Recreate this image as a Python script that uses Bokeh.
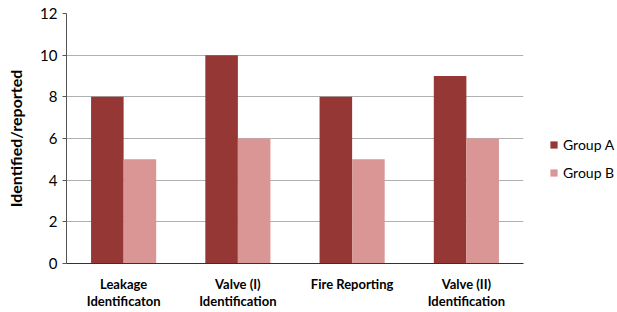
from bokeh.plotting import figure
from bokeh.models import Legend, LegendItem, FixedTicker, ColumnDataSource
from bokeh.transform import dodge
from bokeh.embed import file_html
from bokeh.resources import INLINE

categories = ["Leakage\nIdentificaton", "Valve (I)\nIdentification", "Fire Reporting", "Valve (II)\nIdentification"]
group_a = [8, 10, 8, 9]
group_b = [5, 6, 5, 6]
series_names = ["Group A", "Group B"]
y_ticks = [0, 2, 4, 6, 8, 10, 12]

src = ColumnDataSource(dict(cat=categories, a=group_a, b=group_b))

p = figure(x_range=categories, y_range=(0, 12), output_backend="svg", toolbar_location=None,
           frame_width=457, frame_height=250, min_border_left=66, min_border_top=13,
           min_border_bottom=48, min_border_right=0)

ra = p.vbar(x=dodge("cat", -0.1425, range=p.x_range), top="a", width=0.285, source=src,
            fill_color="#953735", line_color=None)
rb = p.vbar(x=dodge("cat", 0.1425, range=p.x_range), top="b", width=0.285, source=src,
            fill_color="#D99694", line_color=None)

p.outline_line_color = None
p.xgrid.grid_line_color = None
p.ygrid.grid_line_color = "#B0B0B0"
p.ygrid.grid_line_width = 1
p.yaxis.ticker = FixedTicker(ticks=y_ticks)
p.yaxis.axis_line_color = "#555555"
p.yaxis.major_tick_line_color = "#555555"
p.yaxis.major_tick_out = 4
p.yaxis.major_tick_in = 0
p.yaxis.minor_tick_line_color = None
p.yaxis.major_label_text_font = "Lato"
p.yaxis.major_label_text_font_size = "15px"
p.yaxis.major_label_text_color = "#000000"
p.yaxis.major_label_standoff = 5
p.yaxis.axis_label = "Identified/reported"
p.yaxis.axis_label_text_font = "Lato"
p.yaxis.axis_label_text_font_style = "bold"
p.yaxis.axis_label_text_font_size = "16px"
p.yaxis.axis_label_text_color = "#000000"
p.yaxis.axis_label_standoff = 12

p.xaxis.axis_line_color = "#333333"
p.xaxis.major_tick_line_color = None
p.xaxis.minor_tick_line_color = None
p.xaxis.major_label_text_font = "Lato"
p.xaxis.major_label_text_font_style = "bold"
p.xaxis.major_label_text_font_size = "13px"
p.xaxis.major_label_text_line_height = 1.1
p.xaxis.major_label_text_color = "#000000"
p.xaxis.major_label_standoff = 6

legend = Legend(items=[LegendItem(label=series_names[0], renderers=[ra]),
                       LegendItem(label=series_names[1], renderers=[rb])],
                location=(26, 82), orientation="vertical")
legend.border_line_color = None
legend.background_fill_alpha = 0
legend.padding = 0
legend.margin = 0
legend.glyph_width = 9
legend.glyph_height = 9
legend.label_height = 9
legend.spacing = 11
legend.label_standoff = 5
legend.label_text_font = "Lato"
legend.label_text_font_size = "14px"
legend.label_text_color = "#000000"
legend.label_text_baseline = "middle"
p.add_layout(legend, "right")
p.min_border_right = 94

open("out.html", "w").write(file_html(p, INLINE))
